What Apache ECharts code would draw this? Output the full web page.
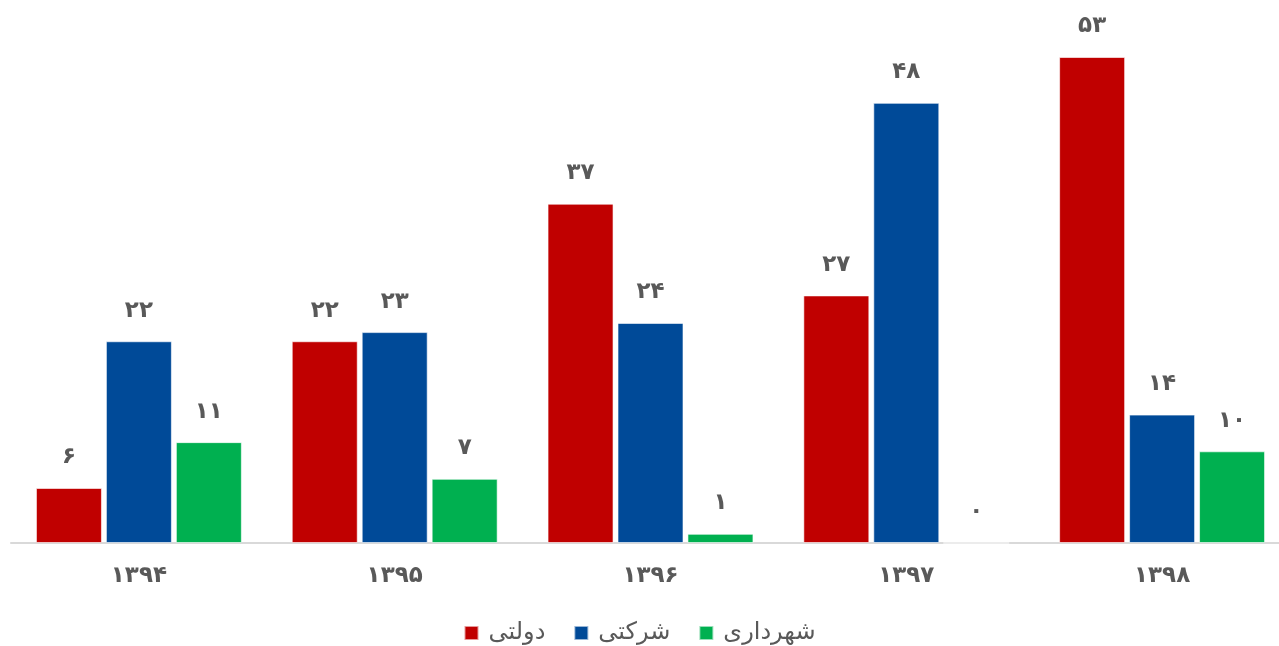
<!DOCTYPE html>
<html>
<head>
<meta charset="utf-8">
<script src="https://cdn.jsdelivr.net/npm/echarts@6/dist/echarts.min.js"></script>
<style>
html, body { margin: 0; padding: 0; background: #fff; }
#main { width: 1279px; height: 646px; }
</style>
</head>
<body>
<div id="main"></div>
<script>
// سال‌ها و مقادیر
var years = ['1394', '1395', '1396', '1397', '1398'];
var dolati = [6, 22, 37, 27, 53];
var sherkati = [22, 23, 24, 48, 14];
var shahrdari = [11, 7, 1, 0, 10];

function fa(v) {
    return String(v).replace(/[0-9]/g, function (d) { return '۰۱۲۳۴۵۶۷۸۹'[d]; });
}

var labelStyle = {
    show: true,
    position: 'top',
    distance: 19,
    color: '#595959',
    fontSize: 23,
    fontWeight: 'bold',
    fontFamily: 'DejaVu Sans',
    formatter: function (p) { return fa(p.value); }
};

function bar(name, color, data) {
    return {
        name: name,
        type: 'bar',
        barWidth: 66,
        barGap: '6%',
        itemStyle: { color: color, borderColor: 'rgba(255,255,255,0.6)', borderWidth: 1 },
        label: labelStyle,
        data: data
    };
}

var chart = echarts.init(document.getElementById('main'));
var option = {
    animation: false,
    grid: { left: 11, right: -11, top: 57, bottom: 103, outerBoundsMode: 'none' },
    legend: {
        top: 616,
        left: 'center',
        itemWidth: 14,
        itemHeight: 14,
        itemGap: 28,
        icon: 'rect',
        textStyle: { color: '#595959', fontSize: 24, fontFamily: 'DejaVu Sans', padding: [0, 0, 0, 5] },
        data: ['دولتی', 'شرکتی', 'شهرداری']
    },
    xAxis: {
        type: 'category',
        data: years,
        axisLine: { lineStyle: { color: '#d9d9d9', width: 2 } },
        axisTick: { show: false },
        axisLabel: {
            color: '#595959',
            fontSize: 23,
            fontWeight: 'bold',
            fontFamily: 'DejaVu Sans',
            margin: 22,
            formatter: function (v) { return fa(v); }
        }
    },
    yAxis: {
        type: 'value',
        min: 0,
        max: 53,
        show: false,
        splitLine: { show: false }
    },
    series: [
        bar('دولتی', '#c00000', dolati),
        bar('شرکتی', '#004a98', sherkati),
        bar('شهرداری', '#00b050', shahrdari)
    ]
};
chart.setOption(option);
</script>
</body>
</html>
